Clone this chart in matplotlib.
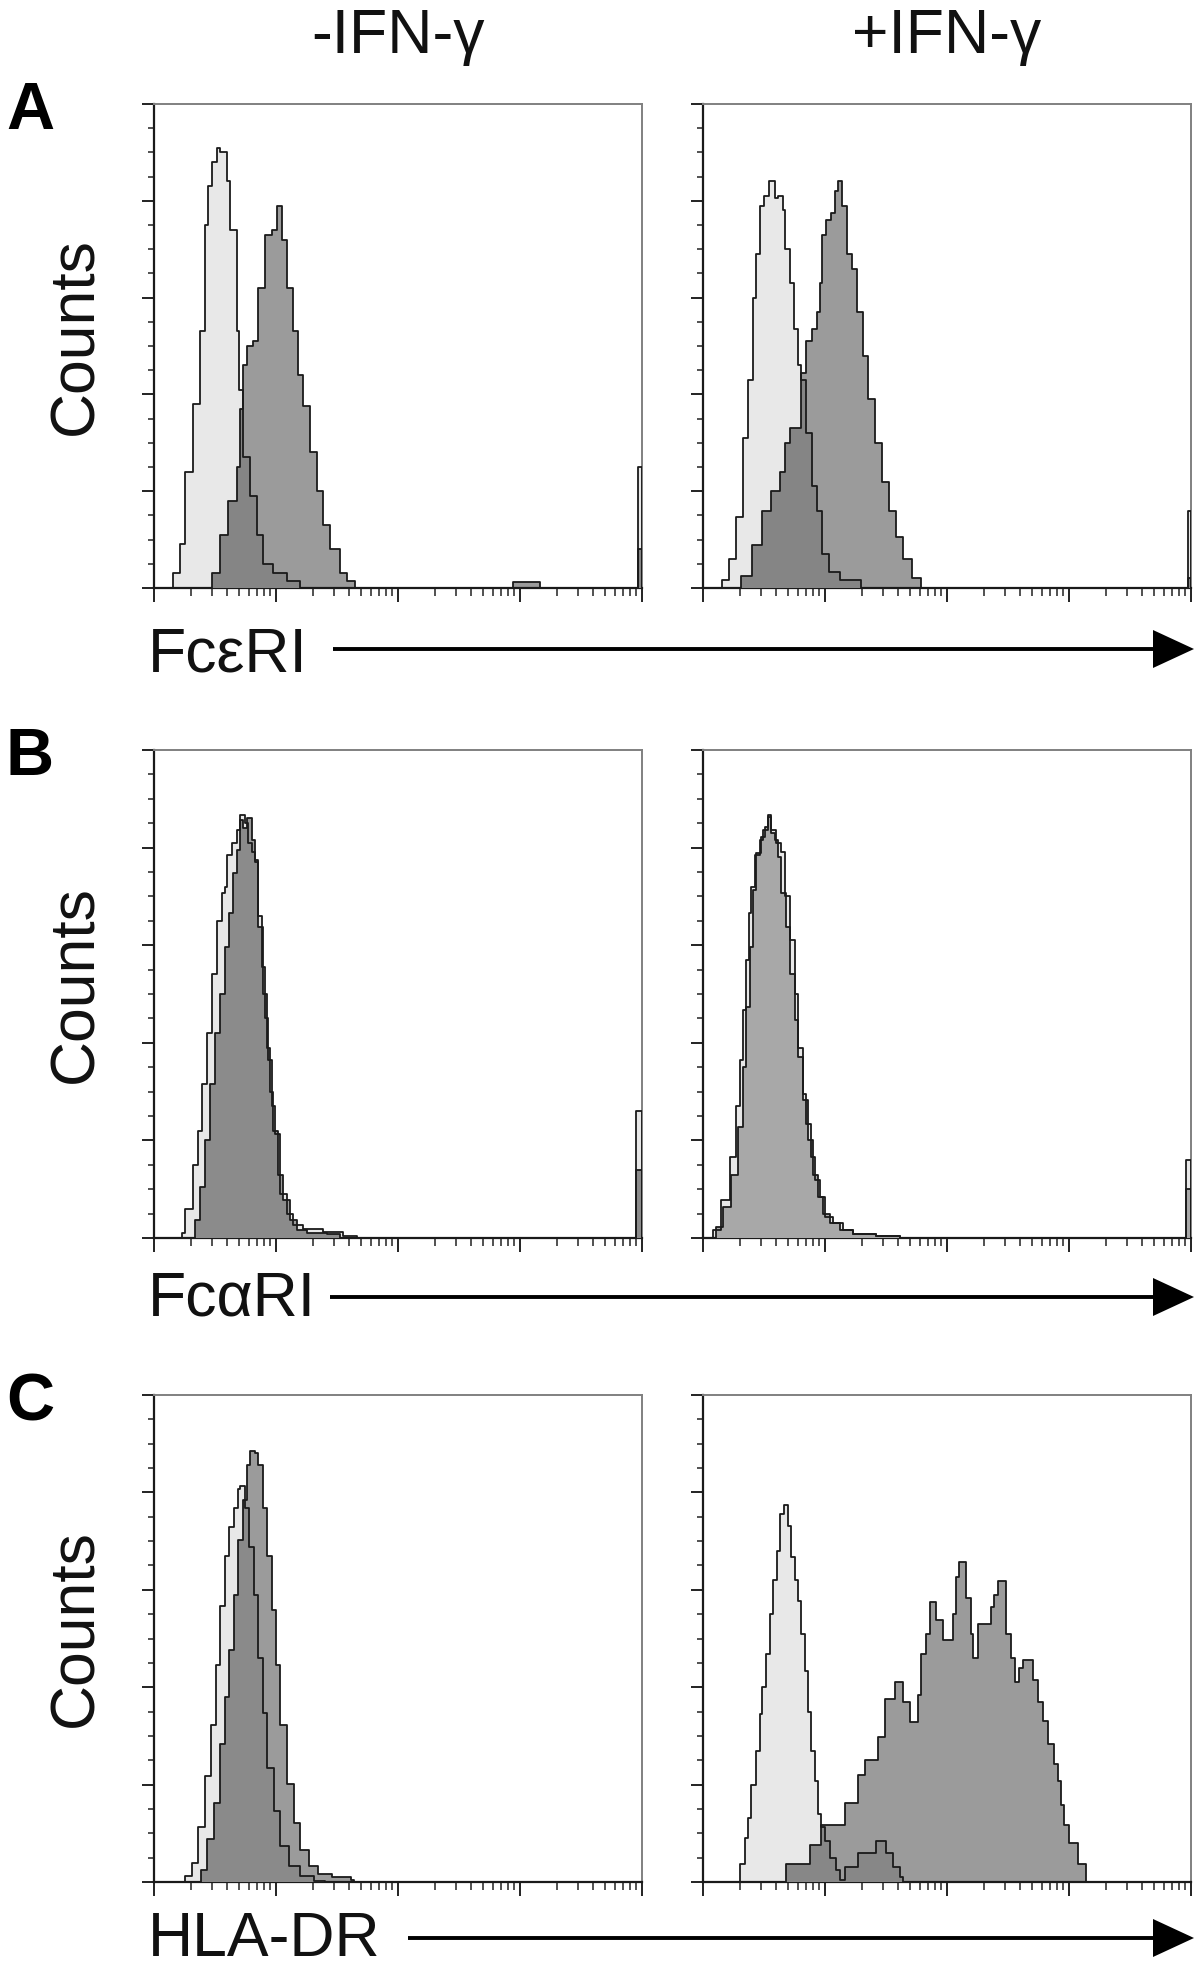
import numpy as np
import matplotlib
matplotlib.use("Agg")
from matplotlib import pyplot as plt
from matplotlib.ticker import LogLocator, MultipleLocator, NullFormatter

plt.rcParams['font.family'] = ['Liberation Sans', 'DejaVu Sans']

# histogram channels in decades (0..4) and counts as % of full scale
# A: FceRI
a_neg_ctrl_x = [0.036, 0.158, 0.213, 0.254, 0.322, 0.377, 0.418, 0.445, 0.473, 0.514, 0.541, 0.601,
                0.623, 0.678, 0.699, 0.732, 0.787, 0.842, 0.896, 0.978, 1.087, 1.197, 3.965, 4.0]
a_neg_ctrl_y = [0, 3, 9, 24, 38, 53, 75, 83, 88, 91, 90, 84, 74, 53, 41, 27, 19, 11, 5, 3, 1.4, 0, 25, 0]
a_neg_samp_x = [0.404, 0.473, 0.541, 0.609, 0.678, 0.705, 0.732, 0.760, 0.814, 0.855, 0.910, 0.964,
                1.005, 1.046, 1.087, 1.142, 1.183, 1.224, 1.279, 1.333, 1.388, 1.443, 1.525, 1.579,
                1.648, 2.94, 3.16, 3.965, 4.0]
a_neg_samp_y = [0, 3, 11, 18, 25, 37, 46, 50, 51, 62, 73, 74, 79, 72, 62, 53, 44, 37.5, 28, 20, 13,
                8, 3, 1.4, 0, 1.2, 0, 8, 0]
a_pos_ctrl_x = [0.038, 0.153, 0.211, 0.269, 0.327, 0.370, 0.413, 0.436, 0.471, 0.500, 0.543, 0.587,
                0.616, 0.653, 0.673, 0.717, 0.746, 0.775, 0.803, 0.847, 0.890, 0.934, 0.977, 1.035,
                1.121, 1.295, 3.975, 4.0]
a_pos_ctrl_y = [0, 1.6, 6, 14.6, 31, 43, 60, 69, 79, 81, 84, 80.5, 81, 78, 70, 63, 53.5, 46, 43, 32,
                21, 16, 7, 3.4, 1.6, 0, 16, 0]
a_pos_samp_x = [0.225, 0.312, 0.399, 0.486, 0.558, 0.630, 0.673, 0.717, 0.760, 0.803, 0.847, 0.890,
                0.934, 0.962, 0.977, 1.006, 1.049, 1.078, 1.107, 1.136, 1.179, 1.223, 1.266, 1.309,
                1.353, 1.410, 1.468, 1.526, 1.584, 1.642, 1.714, 1.786, 3.975, 4.0]
a_pos_samp_y = [0, 2.5, 8.8, 16, 20, 24, 30, 33, 33, 44.5, 51, 53.5, 57, 63, 73, 76, 77.5, 82, 84, 79,
                69, 66, 57, 48, 39, 30, 22, 16, 10.5, 6, 2, 0, 2, 0]

# B: FcaRI
b_neg_ctrl_x = [0.200, 0.227, 0.254, 0.323, 0.364, 0.391, 0.432, 0.473, 0.514, 0.555, 0.582, 0.602,
                0.637, 0.678, 0.705, 0.746, 0.774, 0.801, 0.828, 0.856, 0.883, 0.910, 0.938, 0.965,
                0.992, 1.034, 1.088, 1.143, 1.225, 1.389, 1.550, 1.662, 3.95, 4.0]
b_neg_ctrl_y = [0, 1, 6, 15, 22, 31.6, 42, 54, 65, 70.6, 72, 78.5, 81, 83.6, 86.7, 85, 81, 79, 77, 66,
                55.6, 45, 36.4, 27, 21.4, 9, 5, 2.6, 1.9, 1.2, 0.5, 0, 26, 0]
b_neg_samp_x = [0.295, 0.336, 0.377, 0.418, 0.459, 0.500, 0.541, 0.582, 0.618, 0.651, 0.678, 0.705,
                0.733, 0.766, 0.801, 0.828, 0.856, 0.891, 0.924, 0.951, 0.979, 1.020, 1.061, 1.116,
                1.170, 1.252, 1.416, 1.526, 3.95, 4.0]
b_neg_samp_y = [0, 3.6, 10.5, 20, 31.6, 42, 50, 59.7, 66.5, 74.7, 79.5, 85.6, 84, 86, 81.5, 77.4,
                63.7, 50, 39, 30, 22, 13, 7.7, 3.6, 1.6, 1, 0.75, 0, 14, 0]
b_pos_ctrl_x = [0.014, 0.082, 0.150, 0.219, 0.273, 0.301, 0.328, 0.355, 0.377, 0.396, 0.424, 0.465,
                0.492, 0.533, 0.560, 0.602, 0.643, 0.670, 0.711, 0.752, 0.779, 0.820, 0.848, 0.889,
                0.916, 0.957, 0.998, 1.066, 1.148, 1.230, 1.422, 1.613, 3.96, 4.0]
b_pos_ctrl_y = [0, 1.6, 7.7, 16.6, 27, 36.4, 46.7, 57, 66.5, 72, 78.5, 81.5, 83.6, 86.7, 83.6, 81, 79,
                70, 61, 50, 39, 29.6, 23.4, 16.6, 11.8, 8.4, 4.3, 3, 1.6, 0.9, 0.5, 0, 16, 0]
b_pos_samp_x = [0.055, 0.109, 0.164, 0.232, 0.287, 0.328, 0.355, 0.383, 0.410, 0.437, 0.478, 0.506,
                0.533, 0.560, 0.588, 0.615, 0.643, 0.684, 0.711, 0.752, 0.779, 0.820, 0.861, 0.902,
                0.943, 0.984, 1.039, 1.121, 1.230, 1.422, 1.613, 3.96, 4.0]
b_pos_samp_y = [0, 2.3, 6.4, 13, 22.8, 35, 47.4, 59.7, 71.3, 78.8, 82.2, 84.3, 86.3, 83, 81.5, 78,
                70.6, 63.8, 54, 44.6, 37, 28.2, 20, 13, 8.4, 5, 3, 1.6, 0.75, 0.4, 0, 10, 0]

# C: HLA-DR
c_neg_ctrl_x = [0.200, 0.255, 0.309, 0.364, 0.418, 0.465, 0.509, 0.545, 0.582, 0.618, 0.655, 0.691,
                0.709, 0.745, 0.782, 0.818, 0.855, 0.891, 0.927, 0.982, 1.036, 1.109, 1.200, 1.309, 1.40]
c_neg_ctrl_y = [0, 1.2, 4, 11.3, 21.8, 32.3, 44.5, 56.6, 67, 72.8, 76.8, 80.8, 81.3, 76.8, 68.7, 59,
                46, 34.8, 23.4, 14.5, 7.3, 3.2, 1.2, 0.2, 0]
c_neg_samp_x = [0.327, 0.382, 0.436, 0.491, 0.545, 0.582, 0.618, 0.655, 0.691, 0.727, 0.764, 0.789,
                0.825, 0.855, 0.891, 0.927, 0.964, 1.000, 1.036, 1.091, 1.145, 1.200, 1.273, 1.345,
                1.455, 1.618, 1.636]
c_neg_samp_y = [0, 2.4, 8.9, 16.2, 28.3, 38, 47.7, 59, 70.3, 78.4, 85.7, 88.5, 88, 85.7, 76.8, 67,
                55.8, 44.5, 32.3, 20.2, 12.1, 6.5, 3.2, 1.6, 1, 0.4, 0]
c_pos_ctrl_x = [0.300, 0.341, 0.369, 0.396, 0.437, 0.464, 0.486, 0.513, 0.546, 0.573, 0.606, 0.633,
                0.661, 0.696, 0.724, 0.751, 0.778, 0.805, 0.833, 0.860, 0.887, 0.915, 0.942, 0.969,
                0.997, 1.038, 1.092, 1.125, 1.160, 1.270, 1.420, 1.502, 1.556, 1.611, 1.638]
c_pos_ctrl_y = [3.6, 9, 13.2, 20, 27, 34.5, 40, 46.8, 55, 62, 68, 75.6, 77.4, 73, 66.7, 62, 57.8, 51,
                43.4, 35, 27, 20.7, 13.9, 11.2, 8.4, 5, 2.5, 0.5, 3, 6, 8.5, 6, 3, 1, 0]
c_pos_samp_x = [0.683, 0.874, 0.969, 1.160, 1.270, 1.324, 1.433, 1.488, 1.570, 1.638, 1.693, 1.761,
                1.788, 1.829, 1.857, 1.911, 1.966, 2.048, 2.075, 2.102, 2.157, 2.198, 2.212, 2.253,
                2.362, 2.389, 2.416, 2.485, 2.526, 2.561, 2.594, 2.621, 2.703, 2.744, 2.785, 2.826,
                2.881, 2.908, 2.935, 2.962, 3.003, 3.072, 3.140]
c_pos_samp_y = [3.6, 7.7, 11.8, 16.3, 22, 25, 29.7, 37.5, 41, 37, 32.8, 38.5, 46.8, 51, 57.5, 53.7,
                49.6, 55, 62.6, 65.7, 58.3, 51, 46, 53, 56.4, 59, 61.8, 51, 46, 41, 44, 45.5, 41.5,
                37, 33, 28.3, 24.2, 20.8, 15.9, 11.8, 8, 3.6, 0]

col_titles = ['-IFN-\u03b3', '+IFN-\u03b3']
row_letters = ['A', 'B', 'C']
row_markers = ['Fc\u03b5RI', 'Fc\u03b1RI', 'HLA-DR']

W, H = 1200, 1969
CTRL_COL = '#e8e8e8'
SAMP_COL = '#9b9b9b'
EDGE = '#1a1a1a'


def step_xy(x, y):
    xs, ys = [x[0]], [0.0]
    for i in range(len(x) - 1):
        xs += [x[i], x[i + 1]]
        ys += [y[i], y[i]]
    xs.append(x[-1])
    ys.append(0.0)
    return 10 ** np.array(xs), np.array(ys)


def step_eval(x, y, grid):
    x = np.asarray(x)
    y = np.asarray(y, dtype=float)
    idx = np.searchsorted(x, grid, side='right') - 1
    out = np.where(idx >= 0, y[np.clip(idx, 0, None)], 0.0)
    out[grid >= x[-1]] = 0.0
    return out


def draw_hist(ax, cx, cy, sx, sy, samp_col, over_col):
    gx, gy = step_xy(cx, cy)
    ax.fill(gx, gy, color=CTRL_COL, lw=0, zorder=1)
    gx2, gy2 = step_xy(sx, sy)
    ax.fill(gx2, gy2, color=samp_col, lw=0, zorder=2)
    grid = np.union1d(cx, sx)
    ov = np.minimum(step_eval(cx, cy, grid), step_eval(sx, sy, grid))
    ox, oy = step_xy(grid, ov)
    ax.fill(ox, oy, color=over_col, lw=0, zorder=3)
    ax.plot(gx, gy, color=EDGE, lw=1.3, zorder=4)
    ax.plot(gx2, gy2, color=EDGE, lw=1.3, zorder=4)


def px_axes(x0, y0, x1, y1):
    return fig.add_axes([x0 / W, 1 - y1 / H, (x1 - x0) / W, (y1 - y0) / H])


def style_axes(ax):
    ax.set_xscale('log')
    ax.set_xlim(1, 1e4)
    ax.set_ylim(0, 100)
    ax.xaxis.set_major_locator(LogLocator(base=10))
    ax.xaxis.set_minor_locator(LogLocator(base=10, subs=np.arange(2, 10)))
    ax.xaxis.set_major_formatter(NullFormatter())
    ax.xaxis.set_minor_formatter(NullFormatter())
    ax.yaxis.set_major_locator(MultipleLocator(20))
    ax.yaxis.set_minor_locator(MultipleLocator(5))
    ax.yaxis.set_major_formatter(NullFormatter())
    ax.tick_params(axis='x', which='major', direction='out', length=10, width=1.4, color='#222222')
    ax.tick_params(axis='x', which='minor', direction='out', length=5.5, width=1.2, color='#333333')
    ax.tick_params(axis='y', which='major', direction='out', length=8.5, width=1.4, color='#222222')
    ax.tick_params(axis='y', which='minor', direction='out', length=4, width=1.2, color='#333333')
    for s in ['left', 'bottom']:
        ax.spines[s].set_color('#1a1a1a')
        ax.spines[s].set_linewidth(1.6)
    for s in ['top', 'right']:
        ax.spines[s].set_color('#808080')
        ax.spines[s].set_linewidth(1.4)


fig = plt.figure(figsize=(W / 100, H / 100), dpi=100)

rows = [(104, 588), (750, 1238), (1395, 1882)]
cols = [(154, 642), (703, 1191)]

panels = [
    [(a_neg_ctrl_x, a_neg_ctrl_y, a_neg_samp_x, a_neg_samp_y, SAMP_COL, '#858585'),
     (a_pos_ctrl_x, a_pos_ctrl_y, a_pos_samp_x, a_pos_samp_y, SAMP_COL, '#858585')],
    [(b_neg_ctrl_x, b_neg_ctrl_y, b_neg_samp_x, b_neg_samp_y, SAMP_COL, '#8b8b8b'),
     (b_pos_ctrl_x, b_pos_ctrl_y, b_pos_samp_x, b_pos_samp_y, '#a8a8a8', '#a8a8a8')],
    [(c_neg_ctrl_x, c_neg_ctrl_y, c_neg_samp_x, c_neg_samp_y, SAMP_COL, '#8a8a8a'),
     (c_pos_ctrl_x, c_pos_ctrl_y, c_pos_samp_x, c_pos_samp_y, SAMP_COL, '#878787')],
]

for r, (top, bot) in enumerate(rows):
    for c, (left, right) in enumerate(cols):
        ax = px_axes(left, top, right, bot)
        cx, cy, sx, sy, scol, ocol = panels[r][c]
        draw_hist(ax, cx, cy, sx, sy, scol, ocol)
        style_axes(ax)

# text and arrows drawn in figure pixel space
lay = fig.add_axes([0, 0, 1, 1])
lay.set_xlim(0, W)
lay.set_ylim(H, 0)
lay.axis('off')

lay.text(398, 53, col_titles[0], fontsize=45, ha='center', va='baseline', color='#111111')
lay.text(947, 53, col_titles[1], fontsize=45, ha='center', va='baseline', color='#111111')

label_base = [671, 1315, 1956]
arrow_y = [649, 1297, 1938]
arrow_x0 = [333, 330, 408]
for r, (top, bot) in enumerate(rows):
    lay.text(30, top + 25, row_letters[r], fontsize=48, fontweight='bold', ha='center', va='baseline')
    lay.text(76, (top + bot) / 2 - 10, 'Counts', fontsize=45, rotation=90, ha='center', va='center',
             color='#111111')
    lay.text(148, label_base[r], row_markers[r], fontsize=45, ha='left', va='baseline', color='#111111')
    y = arrow_y[r]
    lay.plot([arrow_x0[r], 1156], [y, y], color='black', lw=2.8, solid_capstyle='butt')
    lay.fill([1153, 1194, 1153], [y - 19, y, y + 19], color='black', lw=0)

fig.savefig('out.png', dpi=100)
